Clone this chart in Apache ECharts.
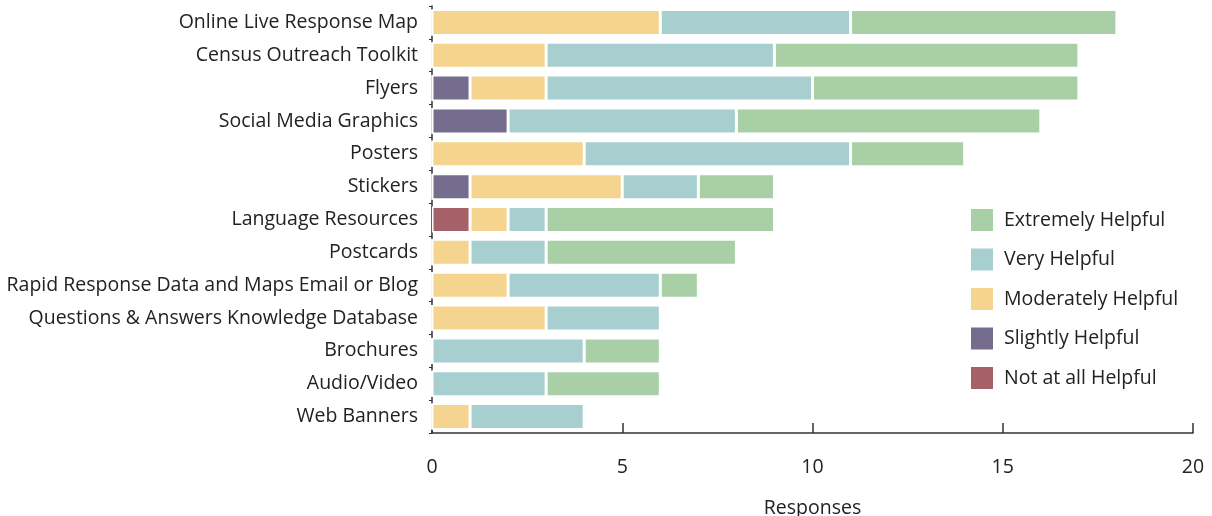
<!DOCTYPE html>
<html>
<head>
<meta charset="utf-8">
<script src="https://cdn.jsdelivr.net/npm/echarts@6/dist/echarts.min.js"></script>
<style>html,body{margin:0;padding:0;background:#fff}#c{width:1212px;height:516px}</style>
</head>
<body>
<div id="c"></div>
<script>
const categories = ["Online Live Response Map","Census Outreach Toolkit","Flyers","Social Media Graphics","Posters","Stickers","Language Resources","Postcards","Rapid Response Data and Maps Email or Blog","Questions & Answers Knowledge Database","Brochures","Audio/Video","Web Banners"];
const notAtAll   = [0,0,0,0,0,0,1,0,0,0,0,0,0];
const slightly   = [0,0,1,2,0,1,0,0,0,0,0,0,0];
const moderately = [6,3,2,0,4,4,1,1,2,3,0,0,1];
const very       = [5,6,7,6,7,2,1,2,4,3,4,3,3];
const extremely  = [7,8,7,8,3,2,6,5,1,0,2,3,0];
const xTicks = [0,5,10,15,20];

const font = 'Open Sans';
const seriesDefs = [
  {name:'Not at all Helpful', data:notAtAll, color:'#a66068'},
  {name:'Slightly Helpful', data:slightly, color:'#756d8d'},
  {name:'Moderately Helpful', data:moderately, color:'#f4d48e'},
  {name:'Very Helpful', data:very, color:'#a7cfcf'},
  {name:'Extremely Helpful', data:extremely, color:'#a8cfa6'}
];
const chart = echarts.init(document.getElementById('c'));
chart.setOption({
  animation:false,
  textStyle:{fontFamily:font},
  grid:{left:432,right:19,top:6,bottom:83,containLabel:false,outerBoundsMode:'none'},
  legend:{
    orient:'vertical', left:969, top:207, padding:0,
    data:['Extremely Helpful','Very Helpful','Moderately Helpful','Slightly Helpful','Not at all Helpful'],
    itemWidth:24, itemHeight:24, itemGap:13.5,
    icon:'rect',
    textStyle:{fontFamily:font,fontSize:19.5,lineHeight:24,color:'#222',padding:[0,0,0,5]}
  },
  xAxis:{
    type:'value', min:0, max:20, interval:5,
    name:'Responses', nameLocation:'middle', nameGap:65,
    nameTextStyle:{fontFamily:font,fontSize:19.5,color:'#222'},
    axisLine:{show:true,lineStyle:{color:'#333',width:1.5}},
    axisTick:{show:true,inside:true,length:10,lineStyle:{color:'#333',width:1.5}},
    axisLabel:{fontFamily:font,fontSize:19.5,color:'#222',margin:24},
    splitLine:{show:false}
  },
  yAxis:{
    type:'category', data:categories, inverse:true,
    axisLine:{show:true,lineStyle:{color:'#333',width:1.5}},
    axisTick:{show:true,length:3,lineStyle:{color:'#333'}},
    axisLabel:{fontFamily:font,fontSize:19.5,color:'#222',margin:14}
  },
  series: seriesDefs.map(s=>({
    name:s.name, type:'bar', stack:'total', data:s.data,
    barWidth:26,
    itemStyle:{color:s.color,borderColor:'#fff',borderWidth:1.5}
  }))
});
</script>
</body>
</html>
